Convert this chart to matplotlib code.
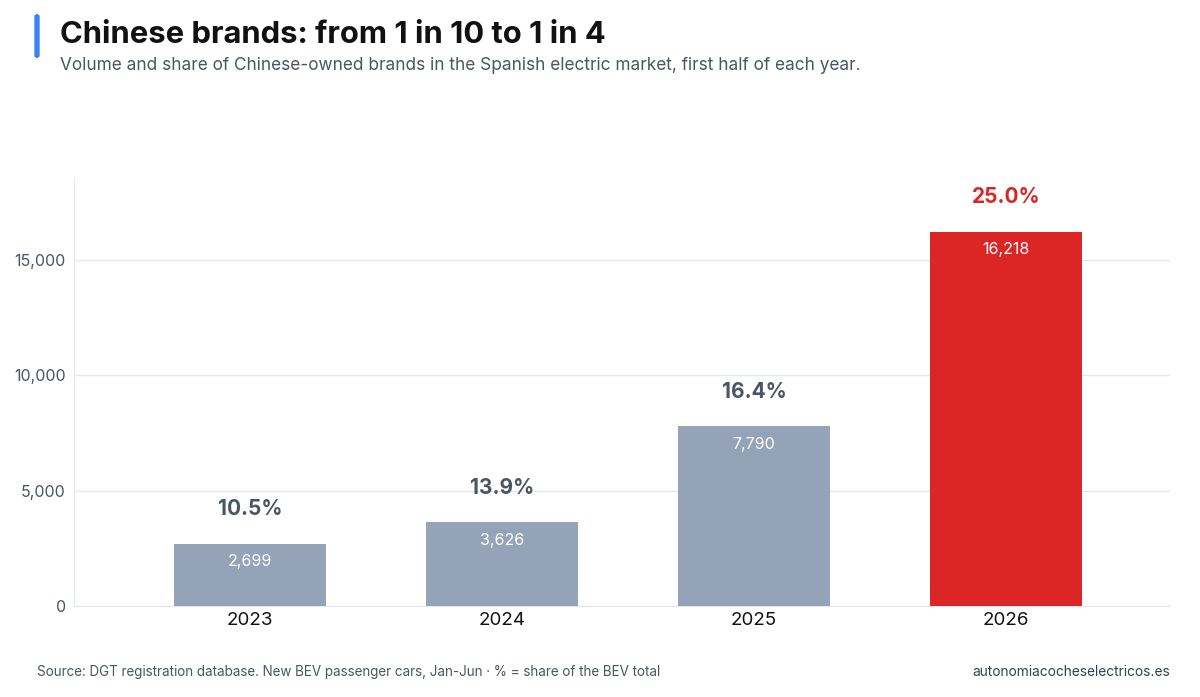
import matplotlib
matplotlib.use("Agg")
import matplotlib.pyplot as plt
from matplotlib.patches import FancyBboxPatch

years = ["2023", "2024", "2025", "2026"]
volumes = [2699, 3626, 7790, 16218]
shares = [10.5, 13.9, 16.4, 25.0]
yticks = [0, 5000, 10000, 15000]

plt.rcParams['font.family'] = ['Inter', 'DejaVu Sans']

fig = plt.figure(figsize=(12, 6.97), dpi=100)
ax = fig.add_axes([74 / 1200, 1 - 606 / 697, (1170 - 74) / 1200, (606 - 178) / 697])

colors = ["#94a3b8"] * 3 + ["#dc2626"]
pct_colors = ["#4b5563"] * 3 + ["#dc2626"]
x = list(range(len(years)))
ax.bar(x, volumes, width=0.6, color=colors, zorder=3)

for i, v in enumerate(volumes):
    ax.annotate(f"{v:,}", (i, v), xytext=(0, -13), textcoords="offset points",
                ha="center", va="center", color="white", fontsize=11.5)
    ax.annotate(f"{shares[i]:.1f}%", (i, v), xytext=(0, 25), textcoords="offset points",
                ha="center", va="center", color=pct_colors[i], fontsize=15, fontweight="bold")

ax.set_xlim(-0.698, 3.651)
ax.set_ylim(0, 18550)
ax.set_yticks(yticks)
ax.set_yticklabels([f"{t:,}" for t in yticks])
ax.set_xticks(x)
ax.set_xticklabels(years)
ax.tick_params(axis="y", length=0, labelsize=11.5, labelcolor="#4b5563", pad=6)
ax.tick_params(axis="x", length=0, labelsize=13.5, labelcolor="#111111", pad=4)
ax.grid(axis="y", color="#e2e8f0", linewidth=1, zorder=0)
for s in ["top", "right"]:
    ax.spines[s].set_visible(False)
ax.spines["left"].set_color("#e2e8f0")
ax.spines["bottom"].set_color("#e2e8f0")

fig.patches.append(FancyBboxPatch((35 / 1200, 1 - 57 / 697), 4 / 1200, 42 / 697,
                                  boxstyle="round,pad=0,rounding_size=0.002",
                                  transform=fig.transFigure, color="#3b82f6", zorder=5))
fig.text(60 / 1200, 1 - 35 / 697, "Chinese brands: from 1 in 10 to 1 in 4",
         fontsize=22.3, fontweight="bold", color="#111111", va="center")
fig.text(60 / 1200, 1 - 65 / 697,
         "Volume and share of Chinese-owned brands in the Spanish electric market, first half of each year.",
         fontsize=12.4, color="#4b5563", va="center")
fig.text(37 / 1200, 1 - 672 / 697,
         "Source: DGT registration database. New BEV passenger cars, Jan-Jun \u00b7 % = share of the BEV total",
         fontsize=9.7, color="#4b5563", va="center")
fig.text(1170 / 1200, 1 - 672 / 697, "autonomiacocheselectricos.es",
         fontsize=9.9, color="#374151", va="center", ha="right")

fig.savefig("out.png", dpi=100)
